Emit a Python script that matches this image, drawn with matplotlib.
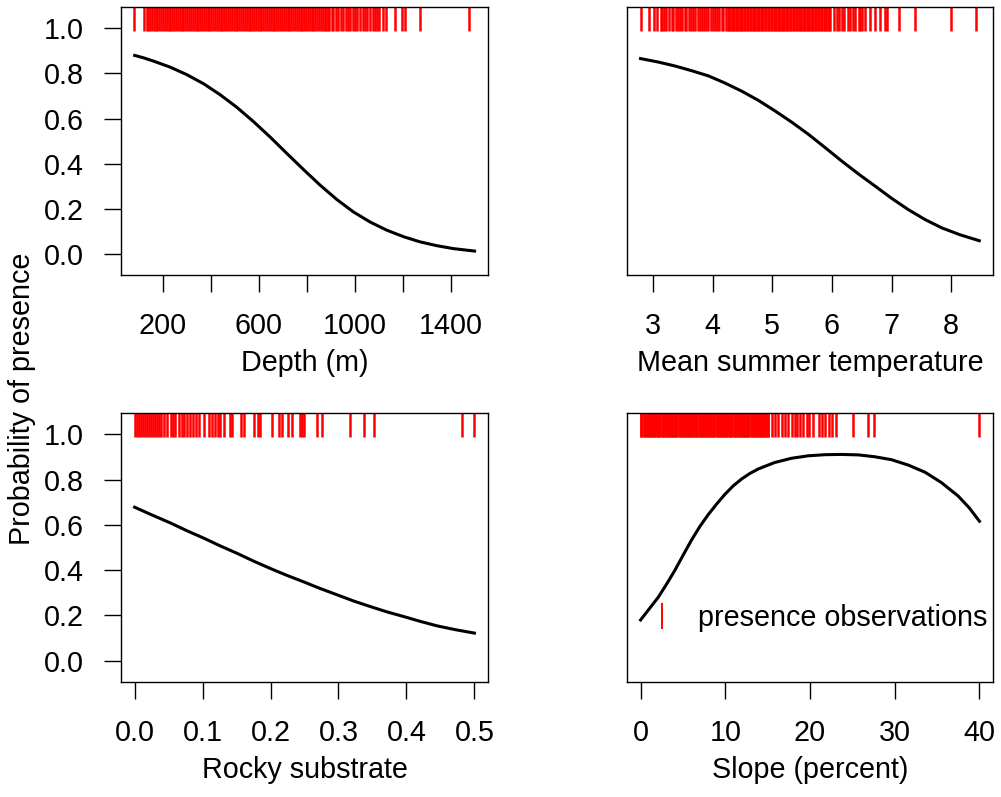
import matplotlib
matplotlib.use("Agg")
import matplotlib.pyplot as plt
from matplotlib.lines import Line2D

plt.rcParams['font.family'] = ['Liberation Sans', 'DejaVu Sans']
plt.rcParams['font.size'] = 20.7

# fitted response curves
depth_x = [82, 120, 160, 230, 299, 370, 438, 508, 577, 647, 716, 786, 855, 925, 994,
           1064, 1133, 1203, 1272, 1342, 1411, 1500]
depth_p = [0.880, 0.869, 0.855, 0.828, 0.795, 0.754, 0.706, 0.650, 0.587, 0.518, 0.446,
           0.374, 0.305, 0.241, 0.186, 0.141, 0.105, 0.076, 0.053, 0.036, 0.023, 0.012]

temp_x = [2.79, 3.08, 3.37, 3.65, 3.93, 4.21, 4.49, 4.77, 5.05, 5.33, 5.61, 5.89, 6.17,
          6.45, 6.73, 7.00, 7.28, 7.56, 7.84, 8.15, 8.47]
temp_p = [0.866, 0.851, 0.833, 0.812, 0.789, 0.757, 0.721, 0.680, 0.633, 0.583, 0.529,
          0.470, 0.410, 0.353, 0.299, 0.246, 0.196, 0.152, 0.115, 0.084, 0.058]

rock_x = [0.0, 0.026, 0.053, 0.077, 0.102, 0.126, 0.151, 0.175, 0.2, 0.224, 0.249, 0.273,
          0.298, 0.322, 0.347, 0.371, 0.396, 0.420, 0.445, 0.472, 0.5]
rock_p = [0.678, 0.643, 0.608, 0.574, 0.541, 0.507, 0.474, 0.440, 0.407, 0.377, 0.348,
          0.319, 0.291, 0.264, 0.239, 0.216, 0.195, 0.174, 0.154, 0.137, 0.122]

slope_x = [0, 1.0, 2.1, 3.1, 4.06, 5.05, 6.03, 7.0, 8.0, 9.0, 9.96, 10.9, 11.9, 12.9, 13.9,
           15.8, 17.8, 19.8, 21.8, 23.7, 25.7, 27.6, 29.6, 31.6, 33.6, 35.5, 37.5, 38.8, 40]
slope_p = [0.18, 0.228, 0.281, 0.34, 0.40, 0.468, 0.534, 0.593, 0.646, 0.693, 0.735, 0.771,
           0.802, 0.827, 0.847, 0.875, 0.894, 0.905, 0.910, 0.911, 0.909, 0.901, 0.888,
           0.864, 0.832, 0.787, 0.727, 0.675, 0.616]

# presence observations (rug)
depth_obs = [79, 122,
             132, 139, 146, 155, 161, 170, 177, 184, 193, 200, 208, 215, 224, 231, 239, 246, 255, 262,
             270, 278, 285, 293, 301, 309, 316, 325, 332, 340, 347, 356, 363, 371, 379, 386, 394, 402,
             410, 417, 425, 433, 441, 448, 456, 464, 471, 480, 487, 495, 503, 510, 518, 526, 534, 541,
             549, 557, 565, 572, 580, 588, 596, 603, 611, 619, 627, 634, 642, 650, 658, 665, 673, 681,
             689, 696, 704, 712, 720, 727, 735, 743, 751, 758, 766, 774, 782, 789, 797, 805, 813, 820,
             828, 836, 844, 851, 859, 867, 875, 882, 890,
             894, 904, 911, 922, 932, 941, 950, 963, 973, 980, 994, 1001, 1011, 1022, 1033, 1043, 1052,
             1064, 1077, 1084, 1094, 1102, 1119, 1130, 1168, 1196, 1210, 1272, 1478]

temp_obs = [2.80, 2.94, 3.01, 3.07, 3.14,
            3.15, 3.19, 3.22, 3.27, 3.31, 3.34, 3.38, 3.42, 3.45, 3.49, 3.53, 3.56, 3.60, 3.64, 3.67,
            3.71, 3.75, 3.78, 3.82, 3.86, 3.89, 3.93, 3.97, 4.00, 4.04, 4.08, 4.11, 4.15, 4.18, 4.22,
            4.25, 4.27, 4.29, 4.32, 4.34, 4.36, 4.39, 4.41, 4.43, 4.46, 4.48, 4.50, 4.53, 4.55, 4.57,
            4.60, 4.62, 4.64, 4.67, 4.69, 4.71, 4.74, 4.76, 4.78, 4.81, 4.83, 4.85, 4.88, 4.90, 4.92,
            4.95, 4.97, 4.99, 5.02, 5.04, 5.06, 5.09, 5.11, 5.13, 5.16, 5.18, 5.20, 5.23, 5.25, 5.27,
            5.30, 5.32, 5.34, 5.37, 5.39, 5.41, 5.44, 5.46, 5.48, 5.51, 5.53, 5.55, 5.58, 5.60, 5.62,
            5.65, 5.67, 5.69, 5.72, 5.74, 5.76, 5.79, 5.81, 5.83, 5.86, 5.88, 5.90, 5.93, 5.95, 5.97,
            6.04, 6.08, 6.12, 6.17, 6.21, 6.27, 6.31, 6.35, 6.39, 6.45, 6.47, 6.51, 6.55, 6.64, 6.73,
            6.81, 6.89, 6.92, 7.12, 7.40, 7.99, 8.42]

rock_obs = [0.0, 0.003, 0.006, 0.009, 0.012, 0.015, 0.018, 0.021, 0.024, 0.027, 0.030, 0.033,
            0.036, 0.039, 0.043,
            0.048, 0.053, 0.057, 0.060, 0.065, 0.069, 0.073, 0.077, 0.082, 0.086, 0.091, 0.095,
            0.102, 0.109, 0.114, 0.119, 0.123, 0.126, 0.132, 0.141, 0.144, 0.157, 0.161, 0.175,
            0.181, 0.184, 0.202, 0.212, 0.217, 0.225, 0.232, 0.244, 0.247, 0.249, 0.269, 0.276,
            0.317, 0.337, 0.352, 0.482, 0.500]

slope_obs = [0.0, 0.1, 0.2, 0.35, 0.5, 0.6, 0.7, 0.85, 1.0, 1.1, 1.2, 1.35, 1.5, 1.6, 1.7, 1.85,
             2.0, 2.1, 2.2, 2.35, 2.5, 2.6, 2.7, 2.85, 3.0, 3.1, 3.2, 3.35, 3.5, 3.6, 3.7, 3.85,
             4.0, 4.1, 4.2, 4.35, 4.5, 4.6, 4.7, 4.85, 5.0, 5.1, 5.2, 5.35, 5.5, 5.6, 5.7, 5.85,
             6.0, 6.1, 6.2, 6.35, 6.5, 6.6, 6.7, 6.85, 7.0, 7.1, 7.2, 7.35, 7.5, 7.6, 7.7, 7.85,
             8.0, 8.1, 8.2, 8.35, 8.5, 8.6, 8.7, 8.85, 9.0, 9.1, 9.2, 9.35, 9.5, 9.6, 9.7, 9.85,
             10.0, 10.1, 10.2, 10.35, 10.5, 10.6, 10.7, 10.85, 11.0, 11.1, 11.2, 11.35, 11.5,
             11.6, 11.7, 11.85, 12.0, 12.1, 12.2, 12.35, 12.5, 12.6, 12.7, 12.85, 13.0, 13.1,
             13.2, 13.35, 13.5, 13.6, 13.7, 13.85, 14.0, 14.1, 14.2, 14.35, 14.5, 14.6, 14.7,
             14.85, 15.0, 15.1,
             15.48, 15.87, 16.26, 16.66, 17.05, 17.44, 17.84, 18.23, 18.43, 18.82, 19.21, 19.61,
             19.88, 20.39, 21.1, 21.45, 21.77, 22.24, 22.56, 23.03, 25.11, 26.88, 27.59, 39.99]

depth_ticks = [200, 400, 600, 800, 1000, 1200, 1400]
depth_labels = ['200', '', '600', '', '1000', '', '1400']
temp_ticks = [3, 4, 5, 6, 7, 8]
rock_ticks = [0.0, 0.1, 0.2, 0.3, 0.4, 0.5]
slope_ticks = [0, 10, 20, 30, 40]
y_ticks = [0.0, 0.2, 0.4, 0.6, 0.8, 1.0]

fig = plt.figure(figsize=(10.01, 7.97), dpi=100)


def draw_panel(rect, cx, cp, obs, xlim, ticks, labels, xlabel, show_y):
    ax = fig.add_axes(rect)
    ax.plot(cx, cp, color='black', lw=2.2)
    ax.vlines(obs, 0.91, 1.0, transform=ax.get_xaxis_transform(), color='red', lw=1.8)
    ax.set_xlim(xlim)
    ax.set_ylim(-0.094, 1.094)
    ax.set_xticks(ticks)
    ax.set_xticklabels(labels)
    ax.set_xlabel(xlabel, labelpad=6)
    ax.tick_params(direction='out', length=12, width=1, pad=15)
    if show_y:
        ax.set_yticks(y_ticks)
        ax.set_yticklabels(['%.1f' % v for v in y_ticks])
    else:
        ax.tick_params(axis='y', left=False, labelleft=False)
    for s in ax.spines.values():
        s.set_linewidth(1.0)
    return ax


draw_panel([0.1209, 0.655, 0.3666, 0.336], depth_x, depth_p, depth_obs, (25, 1556),
           depth_ticks, depth_labels, 'Depth (m)', True)
draw_panel([0.6264, 0.655, 0.3656, 0.336], temp_x, temp_p, temp_obs, (2.564, 8.70),
           temp_ticks, [str(t) for t in temp_ticks], 'Mean summer temperature', False)
draw_panel([0.1209, 0.1443, 0.3666, 0.3375], rock_x, rock_p, rock_obs, (-0.02, 0.52),
           rock_ticks, ['%.1f' % t for t in rock_ticks], 'Rocky substrate', True)
ax4 = draw_panel([0.6264, 0.1443, 0.3656, 0.3375], slope_x, slope_p, slope_obs, (-1.6, 41.6),
                 slope_ticks, [str(t) for t in slope_ticks], 'Slope (percent)', False)

handle = Line2D([], [], color='red', marker='|', linestyle='None', markersize=19.4, mew=1.4)
ax4.legend([handle], ['presence observations'], frameon=False, loc='center left',
           bbox_to_anchor=(0.0563, 0.238), borderaxespad=0, borderpad=0,
           handlelength=1.0, handletextpad=0.75)

fig.text(0.022, 0.5, 'Probability of presence', rotation=90, ha='center', va='center')

fig.savefig('out.png', dpi=100)
